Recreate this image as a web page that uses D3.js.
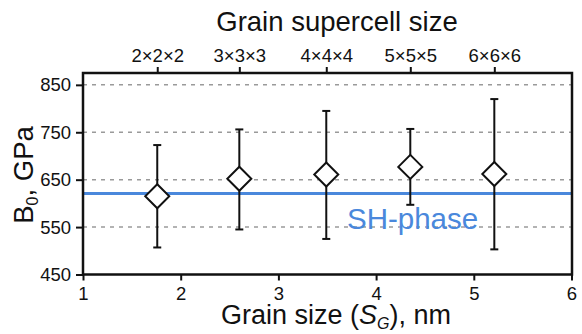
<!DOCTYPE html>
<html>
<head>
<meta charset="utf-8">
<script src="https://cdn.jsdelivr.net/npm/d3@7"></script>
<style>
  body { margin: 0; background: #fff; }
  text { font-family: "Liberation Sans", Arial, sans-serif; }
</style>
</head>
<body>
<div id="chart"></div>
<script>
// data
var grainSize = [1.76, 2.60, 3.49, 4.35, 5.21];
var supercellLabels = ['2×2×2', '3×3×3', '4×4×4', '5×5×5', '6×6×6'];
var bulkMod = [615, 652, 661, 677, 662];
var bulkHigh = [723, 756, 795, 757, 820];
var bulkLow = [507, 545, 525, 597, 503];
var shPhase = 621;
var yTicks = [450, 550, 650, 750, 850];
var xTicks = [1, 2, 3, 4, 5, 6];

var width = 582, height = 334;
var margin = {t: 73, r: 10, b: 59.5, l: 83}; // plot box
var w = width - margin.l - margin.r,
    h = height - margin.t - margin.b;

var blue = '#4a88dc';

var svg = d3.select('#chart').append('svg')
    .attr('width', width)
    .attr('height', height);

var x = d3.scaleLinear().domain([1, 6]).range([0, w - 0.5]);
var y = d3.scaleLinear().domain([450, 875]).range([h, 0]);

var plot = svg.append('g')
    .attr('transform', 'translate(' + margin.l + ',' + margin.t + ')');

// dashed grid
plot.selectAll('.grid').data(yTicks.filter(function(d){ return d > 450; }))
    .enter().append('line')
    .attr('class', 'grid')
    .attr('x1', 0).attr('x2', w)
    .attr('y1', function(d){ return y(d); })
    .attr('y2', function(d){ return y(d); })
    .attr('stroke', '#9a9a9a')
    .attr('stroke-width', 1.5)
    .attr('stroke-dasharray', '4,5');

// SH-phase reference line
plot.append('line')
    .attr('x1', 0).attr('x2', w)
    .attr('y1', y(shPhase)).attr('y2', y(shPhase))
    .attr('stroke', blue)
    .attr('stroke-width', 3);

plot.append('text')
    .attr('x', 264).attr('y', 156)
    .attr('fill', blue)
    .style('font-size', '29.5px')
    .text('SH-phase');

// error bars
var pts = grainSize.map(function(g, i){
    return {x: g, v: bulkMod[i], hi: bulkHigh[i], lo: bulkLow[i]};
});

var bars = plot.selectAll('.err').data(pts).enter().append('g').attr('class', 'err')
    .attr('stroke', '#111').attr('stroke-width', 2);
bars.append('line')
    .attr('x1', function(d){ return x(d.x); }).attr('x2', function(d){ return x(d.x); })
    .attr('y1', function(d){ return y(d.hi); }).attr('y2', function(d){ return y(d.lo); });
bars.append('line')
    .attr('x1', function(d){ return x(d.x) - 4; }).attr('x2', function(d){ return x(d.x) + 4; })
    .attr('y1', function(d){ return y(d.hi); }).attr('y2', function(d){ return y(d.hi); });
bars.append('line')
    .attr('x1', function(d){ return x(d.x) - 4; }).attr('x2', function(d){ return x(d.x) + 4; })
    .attr('y1', function(d){ return y(d.lo); }).attr('y2', function(d){ return y(d.lo); });

// diamonds
var dsz = 12;
plot.selectAll('.diamond').data(pts).enter().append('path')
    .attr('class', 'diamond')
    .attr('d', function(d){
        var cx = x(d.x), cy = y(d.v);
        return 'M' + cx + ',' + (cy - dsz) + 'L' + (cx + dsz) + ',' + cy +
               'L' + cx + ',' + (cy + dsz) + 'L' + (cx - dsz) + ',' + cy + 'Z';
    })
    .attr('fill', '#fff')
    .attr('stroke', '#111')
    .attr('stroke-width', 2);

// axes
var yAxis = d3.axisLeft(y).tickValues(yTicks).tickSize(7).tickPadding(5).tickSizeOuter(0);
var xAxis = d3.axisBottom(x).tickValues(xTicks).tickFormat(d3.format('d'))
    .tickSize(6).tickPadding(6).tickSizeOuter(0);
var topAxis = d3.axisTop(x).tickValues(grainSize)
    .tickFormat(function(d, i){ return supercellLabels[i]; })
    .tickSize(6).tickPadding(5).tickSizeOuter(0);

function styleAxis(g){
    g.select('.domain').remove();
    g.selectAll('.tick line').attr('stroke', '#111').attr('stroke-width', 2);
    g.selectAll('.tick text').attr('fill', '#111')
        .style('font-size', '18.5px')
        .style('font-family', '"Liberation Sans", Arial, sans-serif');
}

plot.append('g').call(yAxis).call(styleAxis);
plot.append('g').attr('transform', 'translate(0,' + h + ')').call(xAxis).call(styleAxis);
plot.append('g').call(topAxis).call(styleAxis);

// frame
plot.append('rect')
    .attr('x', 0).attr('y', 0)
    .attr('width', w).attr('height', h)
    .attr('fill', 'none')
    .attr('stroke', '#111')
    .attr('stroke-width', 2.5);

// titles
svg.append('text')
    .attr('x', 337).attr('y', 31)
    .attr('text-anchor', 'middle')
    .style('font-size', '27.5px')
    .attr('fill', '#111')
    .text('Grain supercell size');

var xt = svg.append('text')
    .attr('x', 336).attr('y', 324)
    .attr('text-anchor', 'middle')
    .style('font-size', '27px')
    .attr('fill', '#111');
xt.append('tspan').text('Grain size (');
xt.append('tspan').style('font-style', 'italic').text('S');
xt.append('tspan').attr('dy', 5).style('font-size', '16px').style('font-style', 'italic').text('G');
xt.append('tspan').attr('dy', -5).text('), nm');

var yt = svg.append('text')
    .attr('transform', 'translate(33,175) rotate(-90)')
    .attr('text-anchor', 'middle')
    .style('font-size', '27.5px')
    .attr('fill', '#111');
yt.append('tspan').text('B');
yt.append('tspan').attr('dy', 5).style('font-size', '16px').text('0');
yt.append('tspan').attr('dy', -5).text(', GPa');
</script>
</body>
</html>
